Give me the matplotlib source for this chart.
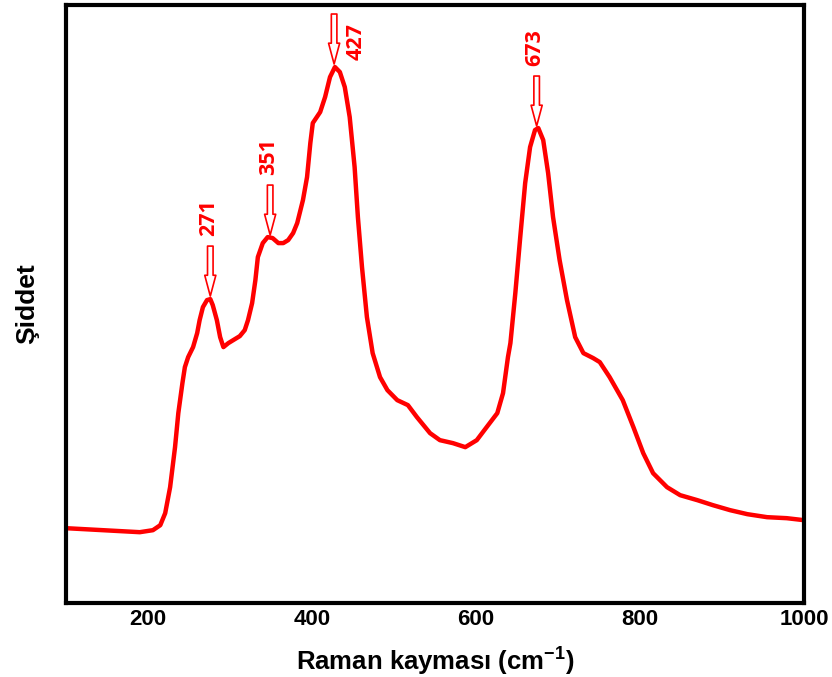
import matplotlib.pyplot as plt
import numpy as np

plt.rcParams['font.family'] = ['Liberation Sans', 'DejaVu Sans']
plt.rcParams['mathtext.fontset'] = 'custom'
plt.rcParams['mathtext.bf'] = 'Liberation Sans:bold'
plt.rcParams['mathtext.rm'] = 'Liberation Sans'

# Raman spectrum (arbitrary intensity units)
shift = np.array([100, 190, 206, 215, 221, 227, 233, 237, 242, 245, 249, 255, 260, 263, 267,
                  272, 276, 279, 284, 288, 292, 298, 304, 312, 318, 322, 327, 331, 334, 340,
                  346, 352, 359, 365, 371, 377, 382, 389, 394, 398, 401, 410, 416, 422, 428,
                  434, 440, 446, 452, 456, 461, 467, 474, 483, 492, 504, 517, 528, 544, 556,
                  572, 587, 601, 613, 626, 633, 639, 642, 648, 654, 660, 666, 672, 676, 682,
                  688, 694, 702, 711, 721, 731, 743, 751, 763, 779, 792, 804, 816, 833, 849,
                  870, 889, 910, 931, 955, 979, 1000])
intensity = np.array([75, 71, 73, 78, 90, 116, 156, 190, 220, 236, 246, 256, 270, 283, 296,
                      303, 304, 298, 283, 266, 256, 260, 263, 267, 273, 283, 300, 323, 346, 360,
                      366, 365, 360, 360, 363, 370, 380, 403, 426, 460, 480, 491, 506, 526, 536,
                      531, 516, 486, 436, 386, 336, 286, 250, 226, 213, 203, 198, 186, 170, 163,
                      160, 156, 163, 176, 190, 210, 246, 260, 310, 366, 420, 456, 473, 475, 463,
                      430, 386, 343, 303, 266, 250, 245, 241, 226, 203, 176, 150, 130, 116, 108,
                      103, 98, 93, 89, 86, 85, 83])

peak_labels = ['271', '351', '427', '673']
arrow_x = [276, 349, 427, 674]
arrow_tip = [307, 368, 539, 477]

fig = plt.figure(figsize=(8.32, 6.77), dpi=100)
ax = fig.add_axes([0.0793, 0.109, 0.8870, 0.8836])

ax.plot(shift, intensity, color='#ff0000', lw=3.2, solid_joinstyle='round',
        solid_capstyle='round')

for x, tip, lab in zip(arrow_x, arrow_tip, peak_labels):
    ax.annotate('', xy=(x, tip), xytext=(x, tip + 50),
                arrowprops=dict(arrowstyle='simple,head_length=1.5,head_width=0.8,tail_width=0.4',
                                fc='white', ec='#ff0000', lw=1.2, shrinkA=0, shrinkB=0))
    if lab == '427':
        tx, ty = x + 27, tip + 22
    else:
        tx, ty = x - 2, tip + 78
    ax.text(tx, ty, lab, rotation=90, color='#ff0000', fontsize=15.5, family='Open Sans',
            fontweight='bold', ha='center', va='center')

ax.set_xlim(100, 1000)
ax.set_ylim(0, 598)
ax.set_xticks([200, 400, 600, 800, 1000])
ax.set_yticks([])
ax.tick_params(axis='x', length=0, pad=4, labelsize=16)
for t in ax.get_xticklabels():
    t.set_fontweight('bold')
for s in ax.spines.values():
    s.set_linewidth(3)

ax.set_xlabel('Raman kayması (cm$^{\\mathbf{-1}}$)', fontsize=18.5, fontweight='bold')
ax.set_ylabel('Şiddet', fontsize=19, fontweight='bold')
ax.xaxis.set_label_coords(0.5, -0.068)
ax.yaxis.set_label_coords(-0.036, 0.5)

fig.savefig('out.png', dpi=100)
